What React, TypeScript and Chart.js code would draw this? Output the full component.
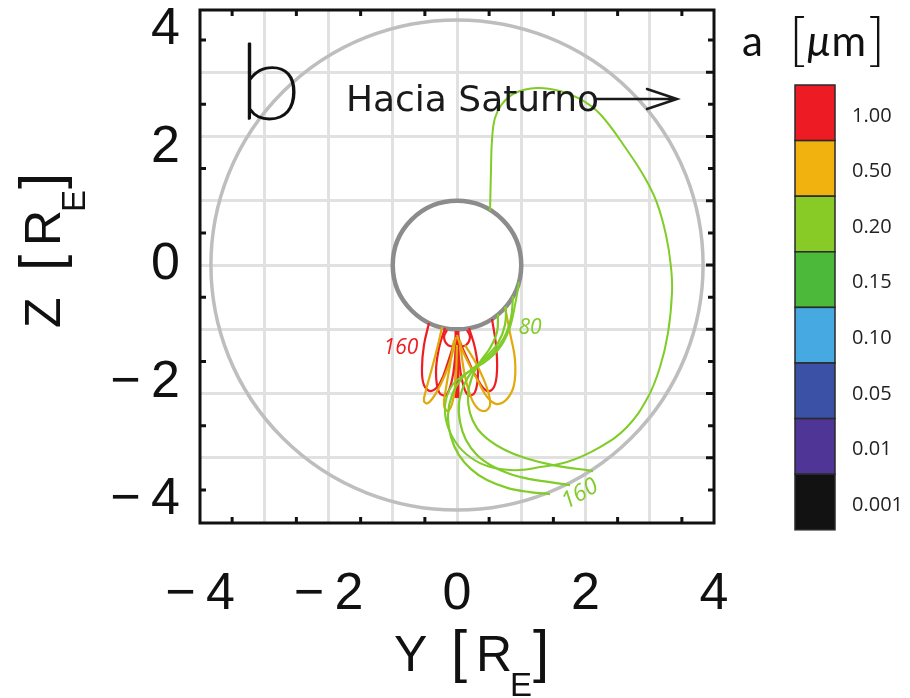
import React, { useEffect, useRef } from "react";
import { Chart, registerables } from "chart.js";

Chart.register(...registerables);

// ---- colour bar: grain radius a [µm] and its colour ----
const SIZE_LABELS = ["1.00", "0.50", "0.20", "0.15", "0.10", "0.05", "0.01", "0.001"];
const SIZE_COLORS = ["#ED1C24", "#F1B10F", "#88CB26", "#4CB93A", "#47A9E1", "#3A51A6", "#4F3595", "#121212"];

// line colours of the plotted grains (1.00, 0.50 and 0.20 µm)
const RED = "#EE1D23";
const ORANGE = "#E0A90C";
const GREEN = "#80CC28";

// ---- axes ----
const X_GRID = [-4, -3, -2, -1, 0, 1, 2, 3, 4];
const X_LABELS = [-4, -2, 0, 2, 4];
const Y_LABELS = [-4, -2, 0, 2, 4];
const Y_GRID = [-3.281, -2.187, -1.094, 0, 1.094, 2.187, 3.281];
const X_MINOR = [-3.5, -2.5, -1.5, -0.5, 0.5, 1.5, 2.5, 3.5];
const Y_MINOR = [-3.828, -2.734, -1.641, -0.547, 0.547, 1.641, 2.734, 3.828];
const Y_MIN = -4.39;
const Y_MAX = 4.34;

// Earth and the outer reference ring (semi-axes in axis units)
const EARTH = { rx: 1.0, ry: 1.094 };
const RING = { rx: 3.83, ry: 4.17 };

// ---- trajectories [Y, Z] in R_E ----
const GREEN_LOOP: [number, number][] = [
  [0.514, 0.919], [0.529, 1.617], [0.545, 2.128], [0.591, 2.502], [0.7, 2.74],
  [0.903, 2.928], [1.245, 3.013], [1.603, 2.962], [1.914, 2.826], [2.226, 2.57],
  [2.646, 1.957], [2.926, 1.481], [3.113, 1.055], [3.253, 0.511], [3.331, -0.034],
  [3.346, -0.477], [3.284, -1.157], [3.16, -1.736], [2.973, -2.247], [2.646, -2.757],
  [2.226, -3.098], [1.712, -3.353], [1.292, -3.438], [0.981, -3.489], [0.669, -3.472],
  [0.358, -3.37], [0.078, -3.149], [-0.109, -2.843], [-0.187, -2.519], [-0.156, -2.23],
  [-0.062, -2.026], [0.125, -1.855], [0.389, -1.685], [0.638, -1.447], [0.809, -1.106],
  [0.903, -0.681], [0.965, -0.289],
];
const GREEN_A: [number, number][] = [
  [0.872, -0.528], [0.84, -0.902], [0.731, -1.243], [0.545, -1.515], [0.296, -1.719],
  [0.078, -1.923], [-0.078, -2.213], [-0.14, -2.553], [-0.093, -2.928], [0.031, -3.234],
  [0.218, -3.472], [0.467, -3.66], [0.794, -3.796], [1.136, -3.864], [1.447, -3.898],
];
const GREEN_B: [number, number][] = [
  [0.763, -0.698], [0.747, -1.021], [0.638, -1.328], [0.451, -1.566], [0.249, -1.787],
  [0.109, -2.043], [0.031, -2.349], [0.047, -2.672], [0.14, -2.979], [0.311, -3.234],
  [0.545, -3.421], [0.825, -3.557], [1.136, -3.643], [1.447, -3.694], [1.759, -3.745],
];
const GREEN_C: [number, number][] = [
  [0.638, -0.834], [0.623, -1.14], [0.514, -1.413], [0.358, -1.651], [0.233, -1.906],
  [0.171, -2.213], [0.202, -2.519], [0.311, -2.774], [0.498, -2.979], [0.747, -3.149],
  [1.058, -3.285], [1.494, -3.404], [2.117, -3.506],
];
const ORANGE_L: [number, number][] = [
  [-0.233, -1.055], [-0.296, -1.362], [-0.389, -1.753], [-0.482, -2.128], [-0.514, -2.315],
  [-0.451, -2.349], [-0.327, -2.179], [-0.187, -1.872], [-0.078, -1.532], [-0.016, -1.226],
];
const ORANGE_R: [number, number][] = [
  [0.747, -0.715], [0.825, -1.157], [0.903, -1.617], [0.887, -2.043], [0.778, -2.281],
  [0.623, -2.366], [0.482, -2.264], [0.342, -2.008], [0.187, -1.685], [0.062, -1.396],
  [0, -1.191],
];
const ORANGE_M: [number, number][] = [
  [0.047, -1.277], [0.093, -1.702], [0.171, -2.094], [0.28, -2.383], [0.42, -2.485],
  [0.514, -2.383], [0.467, -2.094], [0.311, -1.702], [0.125, -1.362],
];
const ORANGE_S: [number, number][] = [
  [-0.047, -1.277], [-0.109, -1.702], [-0.171, -2.094], [-0.202, -2.383], [-0.14, -2.485],
  [-0.062, -2.298], [-0.016, -1.872], [0, -1.362],
];
const RED_1: [number, number][] = [
  [-0.436, -0.987], [-0.514, -1.362], [-0.545, -1.753], [-0.514, -2.043], [-0.405, -2.145],
  [-0.265, -2.008], [-0.14, -1.651], [-0.047, -1.328], [0, -1.157],
];
const RED_2: [number, number][] = [
  [-0.187, -1.072], [-0.28, -1.413], [-0.327, -1.821], [-0.28, -2.162], [-0.171, -2.213],
  [-0.078, -1.957], [-0.031, -1.583], [0, -1.243],
];
const RED_3: [number, number][] = [
  [0.187, -1.072], [0.28, -1.413], [0.327, -1.821], [0.28, -2.162], [0.171, -2.213],
  [0.078, -1.957], [0.031, -1.583], [0, -1.243],
];
const RED_4: [number, number][] = [
  [0.545, -0.919], [0.607, -1.362], [0.623, -1.787], [0.576, -2.077], [0.467, -2.145],
  [0.327, -1.957], [0.171, -1.617], [0.047, -1.311], [0, -1.157],
];
const RED_5: [number, number][] = [
  [-0.156, -1.106], [-0.202, -1.226], [-0.14, -1.362], [-0.031, -1.362], [0, -1.243],
];
const RED_6: [number, number][] = [
  [0.156, -1.106], [0.202, -1.226], [0.14, -1.362], [0.031, -1.362], [0, -1.243],
];
const RED_SPIKE: [number, number][] = [[0, -1.123], [0, -2.264]];

// labels written next to the trajectories
const RED_TAG = { text: "160", x: -0.872, y: -1.413 };
const GREEN_TAG_TOP = { text: "80", x: 1.136, y: -1.072 };
const GREEN_TAG_END = { text: "160", x: 1.914, y: -3.898, angle: -0.52 };
const PANEL_TAG = { text: "b", x: -3.25, y: 3.78, yBottom: 2.46 };
const SATURN_TEXT = { text: "Hacia Saturno", x: -1.681, y: 2.628, xEnd: 2.18 };
const SATURN_ARROW = { x0: 2.179, x1: 3.424, y: 2.826 };

const TRACKS = [
  { pts: GREEN_LOOP, color: GREEN, width: 2 },
  { pts: GREEN_A, color: GREEN, width: 2.2 },
  { pts: GREEN_B, color: GREEN, width: 2.2 },
  { pts: GREEN_C, color: GREEN, width: 2.2 },
  { pts: ORANGE_L, color: ORANGE, width: 2.2 },
  { pts: ORANGE_R, color: ORANGE, width: 2.2 },
  { pts: ORANGE_M, color: ORANGE, width: 2.2 },
  { pts: ORANGE_S, color: ORANGE, width: 2.2 },
  { pts: RED_1, color: RED, width: 2.2 },
  { pts: RED_2, color: RED, width: 2.2 },
  { pts: RED_3, color: RED, width: 2.2 },
  { pts: RED_4, color: RED, width: 2.2 },
  { pts: RED_5, color: RED, width: 2.2 },
  { pts: RED_6, color: RED, width: 2.2 },
  { pts: RED_SPIKE, color: RED, width: 5 },
];

const fmt = (v: number) => (v < 0 ? "\u2212\u2009" + Math.abs(v) : String(v));
const INK = "#111111";

function drawTitle(ctx: CanvasRenderingContext2D, letter: string, ox: number, oy: number, rotate: boolean) {
  ctx.save();
  ctx.translate(ox, oy);
  if (rotate) ctx.rotate(-Math.PI / 2);
  ctx.fillStyle = INK;
  ctx.textAlign = "left";
  ctx.textBaseline = "alphabetic";
  ctx.font = "50px 'Liberation Sans'";
  ctx.fillText(letter, -63, 0);
  ctx.font = "58px 'Liberation Sans'";
  ctx.fillText("[", -6, 0);
  ctx.font = "50px 'Liberation Sans'";
  ctx.fillText("R", 19, 0);
  ctx.font = "33px 'Liberation Sans'";
  ctx.fillText("E", 53, 25);
  ctx.font = "58px 'Liberation Sans'";
  ctx.fillText("]", 76, 0);
  ctx.restore();
}

const decor = {
  id: "decor",
  beforeDatasetsDraw(chart: any) {
    const { ctx, scales } = chart;
    const x = scales.x, y = scales.y;
    const cx = x.getPixelForValue(0);
    const cy = y.getPixelForValue(0);
    ctx.save();
    // outer ring
    ctx.beginPath();
    ctx.ellipse(cx, cy, x.getPixelForValue(RING.rx) - cx, cy - y.getPixelForValue(RING.ry), 0, 0, Math.PI * 2);
    ctx.strokeStyle = "#BEBEBE";
    ctx.lineWidth = 3.5;
    ctx.stroke();
    // Earth
    ctx.beginPath();
    ctx.ellipse(cx, cy, x.getPixelForValue(EARTH.rx) - cx, cy - y.getPixelForValue(EARTH.ry), 0, 0, Math.PI * 2);
    ctx.fillStyle = "#FFFFFF";
    ctx.fill();
    ctx.strokeStyle = "#8C8C8C";
    ctx.lineWidth = 4.5;
    ctx.stroke();
    ctx.restore();
  },
  afterDatasetsDraw(chart: any) {
    const { ctx, scales, chartArea: a } = chart;
    const x = scales.x, y = scales.y;
    ctx.save();

    // trajectory tags
    ctx.textAlign = "center";
    ctx.textBaseline = "middle";
    ctx.font = "italic 21px 'Open Sans'";
    ctx.fillStyle = RED;
    ctx.fillText(RED_TAG.text, x.getPixelForValue(RED_TAG.x), y.getPixelForValue(RED_TAG.y));
    ctx.fillStyle = GREEN;
    ctx.fillText(GREEN_TAG_TOP.text, x.getPixelForValue(GREEN_TAG_TOP.x), y.getPixelForValue(GREEN_TAG_TOP.y));
    ctx.save();
    ctx.translate(x.getPixelForValue(GREEN_TAG_END.x), y.getPixelForValue(GREEN_TAG_END.y));
    ctx.rotate(GREEN_TAG_END.angle);
    ctx.font = "italic 23px 'Open Sans'";
    ctx.fillText(GREEN_TAG_END.text, 0, 0);
    ctx.restore();

    // panel letter (thin hairline glyph, slightly stroked)
    {
      ctx.textAlign = "left";
      ctx.textBaseline = "alphabetic";
      const left = x.getPixelForValue(PANEL_TAG.x);
      const top = y.getPixelForValue(PANEL_TAG.y);
      const bottom = y.getPixelForValue(PANEL_TAG.yBottom);
      const fam = "'Lato', 'DejaVu Sans'";
      ctx.font = `200 100px ${fam}`;
      const m = ctx.measureText(PANEL_TAG.text);
      const h = m.actualBoundingBoxAscent + m.actualBoundingBoxDescent;
      const size = (100 * (bottom - top)) / h;
      ctx.font = `200 ${size}px ${fam}`;
      const m2 = ctx.measureText(PANEL_TAG.text);
      const w = m2.actualBoundingBoxLeft + m2.actualBoundingBoxRight;
      ctx.save();
      ctx.translate(left, bottom);
      ctx.scale(47 / w, 1);
      ctx.fillStyle = INK;
      ctx.strokeStyle = INK;
      ctx.lineWidth = 1.8;
      ctx.lineJoin = "round";
      ctx.fillText(PANEL_TAG.text, m2.actualBoundingBoxLeft, -m2.actualBoundingBoxDescent);
      ctx.strokeText(PANEL_TAG.text, m2.actualBoundingBoxLeft, -m2.actualBoundingBoxDescent);
      ctx.restore();
    }

    // direction to Saturn
    {
      ctx.textAlign = "left";
      ctx.textBaseline = "alphabetic";
      const left = x.getPixelForValue(SATURN_TEXT.x);
      const right = x.getPixelForValue(SATURN_TEXT.xEnd);
      const base = y.getPixelForValue(SATURN_TEXT.y);
      const fam = "'DejaVu Sans'";
      ctx.font = `34px ${fam}`;
      const m = ctx.measureText(SATURN_TEXT.text);
      const w = m.actualBoundingBoxLeft + m.actualBoundingBoxRight;
      const size = (34 * (right - left)) / w;
      ctx.font = `${size}px ${fam}`;
      const m2 = ctx.measureText(SATURN_TEXT.text);
      ctx.fillStyle = "#1A1A1A";
      ctx.fillText(SATURN_TEXT.text, left + m2.actualBoundingBoxLeft, base);

      const x0 = x.getPixelForValue(SATURN_ARROW.x0);
      const x1 = x.getPixelForValue(SATURN_ARROW.x1);
      const ya = y.getPixelForValue(SATURN_ARROW.y);
      ctx.strokeStyle = "#1A1A1A";
      ctx.lineWidth = 2.5;
      ctx.lineCap = "round";
      ctx.beginPath();
      ctx.moveTo(x0, ya);
      ctx.lineTo(x1, ya);
      ctx.moveTo(x1 - 30, ya - 10);
      ctx.lineTo(x1, ya);
      ctx.lineTo(x1 - 30, ya + 10);
      ctx.stroke();
    }

    // frame with inward minor ticks
    ctx.strokeStyle = INK;
    ctx.lineWidth = 3;
    ctx.lineCap = "butt";
    ctx.beginPath();
    X_MINOR.forEach((v) => {
      const px = x.getPixelForValue(v);
      ctx.moveTo(px, a.top);
      ctx.lineTo(px, a.top + 6);
      ctx.moveTo(px, a.bottom);
      ctx.lineTo(px, a.bottom - 6);
    });
    Y_MINOR.forEach((v) => {
      const py = y.getPixelForValue(v);
      ctx.moveTo(a.left, py);
      ctx.lineTo(a.left + 6, py);
      ctx.moveTo(a.right, py);
      ctx.lineTo(a.right - 6, py);
    });
    Y_GRID.forEach((v) => {
      const py = y.getPixelForValue(v);
      ctx.moveTo(a.right, py);
      ctx.lineTo(a.right - 8, py);
    });
    ctx.stroke();
    ctx.strokeRect(a.left, a.top, a.right - a.left, a.bottom - a.top);
    ctx.restore();
  },
  afterDraw(chart: any) {
    const { ctx, chartArea: a } = chart;
    ctx.save();
    // axis titles
    drawTitle(ctx, "Y", (a.left + a.right) / 2, 671, false);
    drawTitle(ctx, "Z", 60, 265, true);

    // colour bar
    const cbLeft = a.right + 81;
    const cbTop = 85;
    const cbW = 40;
    const cbH = 55.6;
    SIZE_COLORS.forEach((c, i) => {
      ctx.fillStyle = c;
      ctx.fillRect(cbLeft, cbTop + i * cbH, cbW, cbH);
      ctx.strokeStyle = "#2A2A2A";
      ctx.lineWidth = 1.5;
      ctx.strokeRect(cbLeft, cbTop + i * cbH, cbW, cbH);
    });
    ctx.fillStyle = "#222222";
    ctx.font = "20px 'Open Sans'";
    ctx.textAlign = "left";
    ctx.textBaseline = "middle";
    SIZE_LABELS.forEach((t, i) => {
      ctx.fillText(t, cbLeft + 57, cbTop + i * cbH + cbH / 2 + 3);
    });

    // colour bar title: a [µm]
    ctx.fillStyle = INK;
    ctx.textBaseline = "alphabetic";
    const base = 56;
    let px = cbLeft - 53;
    ctx.font = "400 42px 'Lato'";
    ctx.fillText("a", px, base);
    px = cbLeft - 6;
    ctx.font = "300 58px 'Lato'";
    ctx.fillText("[", px, base + 3);
    px += ctx.measureText("[").width + 1;
    ctx.font = "italic 400 42px 'Lato'";
    ctx.fillText("\u03BC", px, base);
    px += ctx.measureText("\u03BC").width + 1;
    ctx.font = "400 42px 'Lato'";
    ctx.fillText("m", px, base);
    px += ctx.measureText("m").width + 2;
    ctx.font = "300 58px 'Lato'";
    ctx.fillText("]", px, base + 3);
    ctx.restore();
  },
};

export default function App() {
  const ref = useRef<HTMLCanvasElement>(null);

  useEffect(() => {
    const canvas = ref.current;
    if (!canvas) return;
    const datasets = TRACKS.map((t) => ({
      data: t.pts.map(([px, py]) => ({ x: px, y: py })),
      borderColor: t.color,
      backgroundColor: t.color,
      borderWidth: t.width,
      showLine: true,
      pointRadius: 0,
      tension: 0.4,
      fill: false,
    }));

    const chart = new Chart(canvas, {
      type: "scatter",
      data: { datasets },
      options: {
        responsive: false,
        animation: false,
        events: [],
        layout: { autoPadding: false, padding: { left: 0, right: 196, top: 10, bottom: 0 } },
        plugins: { legend: { display: false }, tooltip: { enabled: false } },
        scales: {
          x: {
            type: "linear",
            min: -4,
            max: 4,
            afterFit: (s: any) => {
              s.height = 175;
              s.paddingLeft = 0;
              s.paddingRight = 0;
              s.paddingTop = 0;
              s.paddingBottom = 0;
            },
            afterBuildTicks: (s: any) => {
              s.ticks = X_GRID.map((v) => ({ value: v }));
            },
            border: { display: false },
            grid: {
              drawTicks: false,
              lineWidth: 3,
              color: (c: any) => (Math.abs(c.tick?.value) === 4 ? "rgba(0,0,0,0)" : "#E1E1E1"),
            },
            ticks: {
              autoSkip: false,
              maxRotation: 0,
              padding: 40,
              color: INK,
              font: { family: "'Liberation Sans'", size: 52 },
              callback: (v: any) => (X_LABELS.includes(v) ? fmt(v) : ""),
            },
          },
          y: {
            type: "linear",
            min: Y_MIN,
            max: Y_MAX,
            afterFit: (s: any) => {
              s.width = 200;
              s.paddingLeft = 0;
              s.paddingRight = 0;
              s.paddingTop = 0;
              s.paddingBottom = 0;
            },
            afterBuildTicks: (s: any) => {
              const vals = Array.from(new Set([...Y_GRID, ...Y_LABELS])).sort((p, q) => p - q);
              s.ticks = vals.map((v) => ({ value: v }));
            },
            border: { display: false },
            grid: {
              drawTicks: false,
              lineWidth: 3,
              color: (c: any) => (Y_GRID.includes(c.tick?.value) ? "#E1E1E1" : "rgba(0,0,0,0)"),
            },
            ticks: {
              autoSkip: false,
              padding: 20,
              color: INK,
              font: { family: "'Liberation Sans'", size: 52 },
              callback: (v: any) => (Y_LABELS.includes(v) ? fmt(v) : ""),
            },
          },
        },
      },
      plugins: [decor],
    });

    return () => chart.destroy();
  }, []);

  return (
    <div style={{ position: "fixed", left: 0, top: 0, width: 910, height: 698, background: "#FFFFFF" }}>
      <canvas ref={ref} width={910} height={698} style={{ display: "block", width: 910, height: 698 }} />
    </div>
  );
}
